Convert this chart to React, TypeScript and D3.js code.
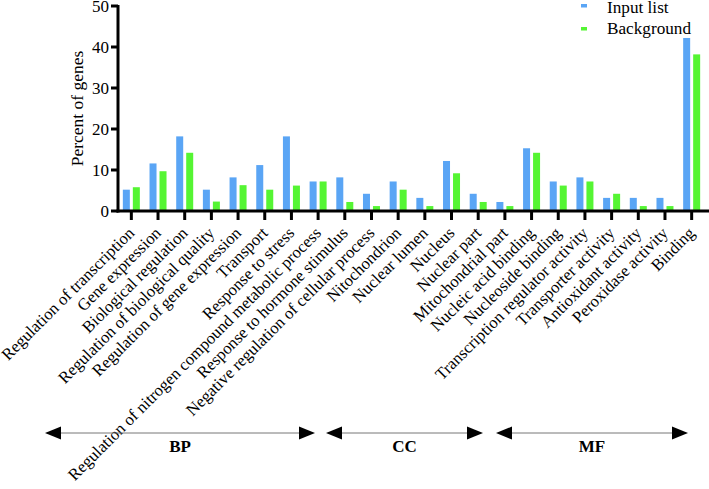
import React from "react";
import * as d3 from "d3";

const categories = [
  "Regulation of transcription",
  "Gene expression",
  "Biological regulation",
  "Regulation of biological quality",
  "Regulation of gene expression",
  "Transport",
  "Response to stress",
  "Regulation of nitrogen compound metabolic process",
  "Response to hormone stimulus",
  "Negative regulation of cellular process",
  "Nitochondrion",
  "Nuclear lumen",
  "Nucleus",
  "Nuclear part",
  "Mitochondrial part",
  "Nucleic acid binding",
  "Nucleoside binding",
  "Transcription regulator activity",
  "Transporter activity",
  "Antioxidant activity",
  "Peroxidase activity",
  "Binding",
];

const inputList = [5.2, 11.6, 18.2, 5.2, 8.2, 11.2, 18.2, 7.2, 8.2, 4.2, 7.2, 3.2, 12.2, 4.2, 2.2, 15.3, 7.2, 8.2, 3.2, 3.2, 3.2, 42.2];
const background = [5.8, 9.7, 14.2, 2.3, 6.3, 5.2, 6.2, 7.2, 2.2, 1.2, 5.2, 1.2, 9.2, 2.2, 1.2, 14.2, 6.2, 7.2, 4.2, 1.2, 1.2, 38.2];

const yTicks = [0, 10, 20, 30, 40, 50];

const groupNames = ["BP", "CC", "MF"];
const groupSpans = [
  [45, 315],
  [326, 483],
  [496, 688],
];

const BLUE = "#5aa5f5";
const GREEN = "#55f533";
const FONT = "'Liberation Serif', 'Times New Roman', serif";

export default function App() {
  const W = 709;
  const H = 489;
  const x0 = 118;
  const x1 = 705;
  const yTop = 6;
  const yBot = 211;

  const x = d3.scaleBand<string>().domain(categories).range([x0, x1]).padding(0);
  const y = d3.scaleLinear().domain([0, 50]).range([yBot, yTop]);
  const bw = 7;
  const gap = 3;

  const arrowY = 433;
  const ts: React.CSSProperties = { fontFamily: FONT };

  return (
    <svg width={W} height={H} style={{ position: "absolute", left: 0, top: 0 }}>
      <rect x={0} y={0} width={W} height={H} fill="#fff" />
      {categories.map((c, i) => {
        const cx = (x(c) as number) + x.bandwidth() / 2;
        return (
          <g key={c}>
            <rect x={cx - gap / 2 - bw} y={y(inputList[i])} width={bw} height={y(0) - y(inputList[i])} fill={BLUE} />
            <rect x={cx + gap / 2} y={y(background[i])} width={bw} height={y(0) - y(background[i])} fill={GREEN} />
          </g>
        );
      })}
      <line x1={x0} x2={x0} y1={yTop - 1} y2={yBot + 1.5} stroke="#000" strokeWidth={3} />
      {yTicks.map((t) => (
        <g key={t}>
          <line x1={x0 - 7} x2={x0} y1={y(t)} y2={y(t)} stroke="#000" strokeWidth={3} />
          <text x={x0 - 9} y={y(t) + 6} textAnchor="end" fontSize={17} style={ts} fill="#000">
            {t}
          </text>
        </g>
      ))}
      <text transform={`translate(83,${(yTop + yBot) / 2}) rotate(-90)`} textAnchor="middle" fontSize={17.5} style={ts} fill="#000">
        Percent of genes
      </text>
      <line x1={x0 - 1.5} x2={W} y1={yBot} y2={yBot} stroke="#000" strokeWidth={3} />
      {categories.map((c) => {
        const cx = (x(c) as number) + x.bandwidth() / 2;
        return (
          <g key={"t" + c}>
            <line x1={cx} x2={cx} y1={yBot} y2={yBot + 9} stroke="#000" strokeWidth={3} />
            <text
              transform={`translate(${cx + 4},${yBot + 23}) rotate(-45)`}
              textAnchor="end"
              fontSize={16.7}
              style={ts}
              fill="#000"
            >
              {c}
            </text>
          </g>
        );
      })}
      <rect x={581} y={4} width={6} height={3.5} fill={BLUE} />
      <text x={607} y={12.5} fontSize={17.2} style={ts} fill="#000">Input list</text>
      <rect x={581} y={27} width={6} height={3.5} fill={GREEN} />
      <text x={607} y={34} fontSize={17.2} style={ts} fill="#000">Background</text>
      {groupNames.map((name, i) => {
        const [a, b] = groupSpans[i];
        const ah = 16;
        const hh = 6.5;
        return (
          <g key={name}>
            <line x1={a + ah} x2={b - ah} y1={arrowY} y2={arrowY} stroke="#777" strokeWidth={1} />
            <path d={`M${a},${arrowY} L${a + ah},${arrowY - hh} L${a + ah},${arrowY + hh} Z`} fill="#000" />
            <path d={`M${b},${arrowY} L${b - ah},${arrowY - hh} L${b - ah},${arrowY + hh} Z`} fill="#000" />
            <text x={(a + b) / 2} y={arrowY + 19} textAnchor="middle" fontSize={17} fontWeight="bold" style={ts} fill="#000">
              {name}
            </text>
          </g>
        );
      })}
    </svg>
  );
}
